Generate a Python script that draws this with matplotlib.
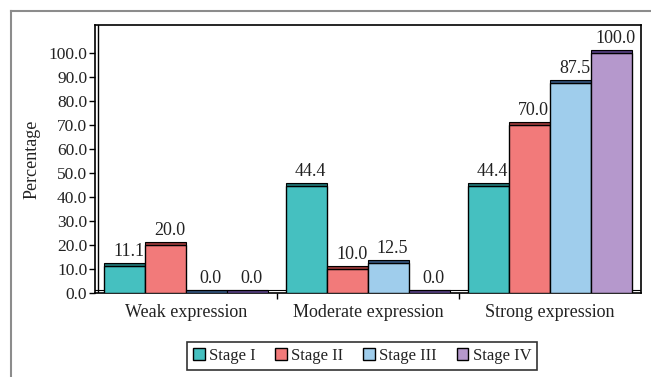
import matplotlib
matplotlib.use("Agg")
import matplotlib.pyplot as plt
from matplotlib.lines import Line2D
from matplotlib.patches import Patch
import numpy as np

categories = ["Weak expression", "Moderate expression", "Strong expression"]
series_names = ["Stage I", "Stage II", "Stage III", "Stage IV"]
stage1 = [11.1, 44.4, 44.4]
stage2 = [20.0, 10.0, 70.0]
stage3 = [0.0, 12.5, 87.5]
stage4 = [0.0, 0.0, 100.0]
yticks = [0, 10, 20, 30, 40, 50, 60, 70, 80, 90, 100]

series = [stage1, stage2, stage3, stage4]
face_colors = ["#45c0c0", "#f27a7a", "#9fcdec", "#b598cc"]
top_colors = ["#1d6e6e", "#8e3434", "#2e4c72", "#4e3a76"]

plt.rcParams["font.family"] = ["Liberation Serif", "DejaVu Serif"]
txt = "#222222"

W, H = 651, 377
fig = plt.figure(figsize=(W / 100, H / 100), dpi=100)
x0, x1, y0, y1 = 95, 641, 293, 25
ax = fig.add_axes([x0 / W, 1 - y0 / H, (x1 - x0) / W, (y0 - y1) / H])
ymax = (y0 - y1) / 2.4
ax.set_ylim(0, ymax)
ax.set_xlim(-0.5, 2.5)

x = np.arange(len(categories))
w = 0.225
top_h = 1.4
for i, (vals, fc, tc) in enumerate(zip(series, face_colors, top_colors)):
    pos = x + (i - 1.5) * w
    ax.bar(pos, vals, width=w, color=fc, edgecolor="black", linewidth=1.0, zorder=3)
    ax.bar(pos, [top_h] * len(vals), bottom=vals, width=w, color=tc,
           edgecolor="black", linewidth=0.8, zorder=3)
    for p, v in zip(pos, vals):
        ax.annotate(f"{v:.1f}", (p, v + top_h), xytext=(3, 2), textcoords="offset points",
                    ha="center", va="bottom", fontsize=13, color=txt, zorder=4)

# back-wall / floor lines to mimic 3D frame
ax.plot([-0.5, 2.5], [1.2, 1.2], color="black", lw=0.8, zorder=1)
ax.axvline(-0.5 + 2.5 / 182, color="black", lw=1.0, zorder=1)

for s in ax.spines.values():
    s.set_linewidth(1.2)
    s.set_color("black")

ax.set_yticks(yticks)
ax.set_yticklabels([f"{t:.1f}" for t in yticks], fontsize=12.5, color=txt)
ax.tick_params(axis="y", length=4.5, width=1.0, pad=1.0, color="black")
ax.set_xticks(x)
ax.set_xticklabels(categories, fontsize=13, color=txt)
ax.tick_params(axis="x", length=0, pad=8)
ax.set_xticks([0.5, 1.5], minor=True)
ax.tick_params(axis="x", which="minor", length=4, width=1.0, direction="out")
ax.set_ylabel("Percentage", fontsize=13, labelpad=6, color=txt)

handles = [Patch(facecolor=c, edgecolor="black", label=n) for c, n in zip(face_colors, series_names)]
leg = fig.legend(handles=handles, loc="center", bbox_to_anchor=(362 / W, 1 - 356 / H),
                 ncol=4, fontsize=12, frameon=True, fancybox=False, handlelength=0.7,
                 handleheight=0.7, handletextpad=0.25, columnspacing=1.2, borderpad=0.35)
leg.get_frame().set_edgecolor("black")
leg.get_frame().set_linewidth(1.2)
for t in leg.get_texts():
    t.set_color(txt)

# outer gray frame
fig.add_artist(Line2D([11 / W, 11 / W], [0, 1 - 11 / H], color="#8c8c8c", lw=1.5))
fig.add_artist(Line2D([11 / W, 1], [1 - 11 / H, 1 - 11 / H], color="#8c8c8c", lw=1.5))

fig.savefig("out.png", dpi=100)
